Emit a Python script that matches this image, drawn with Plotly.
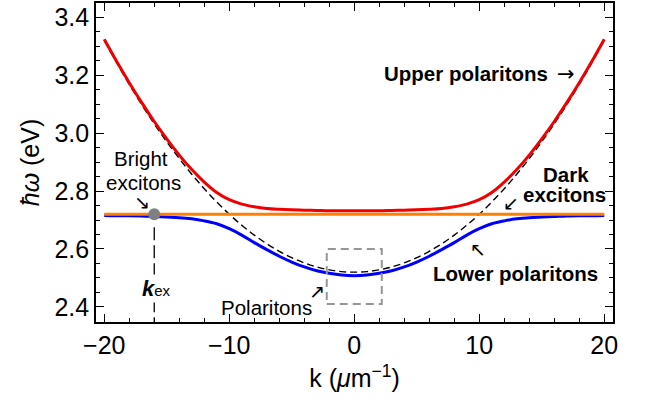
import plotly.graph_objects as go

# ---- data ----
k = [-20, -19, -18, -17, -16, -15, -14, -13, -12, -11, -10, -9, -8, -7, -6, -5, -4, -3, -2, -1,
     0, 1, 2, 3, 4, 5, 6, 7, 8, 9, 10, 11, 12, 13, 14, 15, 16, 17, 18, 19, 20]
upper = [3.324, 3.247, 3.174, 3.105, 3.040, 2.980, 2.924, 2.874, 2.831, 2.795, 2.770, 2.755,
         2.746, 2.740, 2.737, 2.735, 2.734, 2.733, 2.732, 2.732, 2.732, 2.732, 2.732, 2.733,
         2.734, 2.735, 2.737, 2.740, 2.746, 2.755, 2.770, 2.795, 2.831, 2.874, 2.924, 2.980,
         3.040, 3.105, 3.174, 3.247, 3.324]
lower = [2.716, 2.715, 2.715, 2.714, 2.712, 2.710, 2.708, 2.704, 2.697, 2.687, 2.670, 2.648,
         2.622, 2.598, 2.575, 2.555, 2.538, 2.525, 2.516, 2.510, 2.508, 2.510, 2.516, 2.525,
         2.538, 2.555, 2.575, 2.598, 2.622, 2.648, 2.670, 2.687, 2.697, 2.704, 2.708, 2.710,
         2.712, 2.714, 2.715, 2.715, 2.716]
photon = [3.320, 3.242, 3.168, 3.098, 3.032, 2.970, 2.912, 2.858, 2.808, 2.762, 2.720, 2.682,
          2.648, 2.618, 2.592, 2.570, 2.552, 2.538, 2.528, 2.522, 2.520, 2.522, 2.528, 2.538,
          2.552, 2.570, 2.592, 2.618, 2.648, 2.682, 2.720, 2.762, 2.808, 2.858, 2.912, 2.970,
          3.032, 3.098, 3.168, 3.242, 3.320]
exciton_k = [-20, 20]
exciton_E = [2.72, 2.72]
k_ex = -16
E_ex = 2.72
box_k = [-2.2, 2.2]
box_E = [2.41, 2.60]

x_range = [-20.66, 20.7]
y_range = [2.348, 3.449]
x_ticks = [-20, -10, 0, 10, 20]
x_ticklabels = ["\u221220", "\u221210", "0", "10", "20"]
y_ticks = [2.4, 2.6, 2.8, 3.0, 3.2, 3.4]
y_ticklabels = ["2.4", "2.6", "2.8", "3.0", "3.2", "3.4"]

FONT = "Liberation Sans, Arial, Helvetica, sans-serif"
ARROW_FONT = "DejaVu Sans, sans-serif"

fig = go.Figure()
fig.add_trace(go.Scatter(x=k, y=photon, mode="lines", line=dict(color="black", width=1.4, dash="7px,4px", shape="spline"), hoverinfo="skip"))
fig.add_trace(go.Scatter(x=k, y=lower, mode="lines", line=dict(color="rgb(0,0,250)", width=3, shape="spline")))
fig.add_trace(go.Scatter(x=k, y=upper, mode="lines", line=dict(color="rgb(240,0,0)", width=3, shape="spline")))
fig.add_trace(go.Scatter(x=exciton_k, y=exciton_E, mode="lines", line=dict(color="rgb(255,128,0)", width=3)))
fig.add_trace(go.Scatter(x=[k_ex, k_ex], y=[E_ex - 0.045, y_range[0]], mode="lines",
                         line=dict(color="black", width=1.3, dash="13px,5px")))
fig.add_trace(go.Scatter(x=[k_ex], y=[E_ex], mode="markers",
                         marker=dict(color="rgb(128,128,128)", size=12)))

fig.add_shape(type="rect", x0=box_k[0], x1=box_k[1], y0=box_E[0], y1=box_E[1],
              line=dict(color="rgb(150,150,150)", width=2, dash="8px,5px"))

ann = []
def add(text, x, y, size=20.5, family=FONT, bg=None, height=None):
    d = dict(text=text, x=x, y=y, xref="x", yref="y", showarrow=False,
             font=dict(family=family, size=size, color="black"), xanchor="center", yanchor="middle")
    if bg:
        d["bgcolor"] = bg
    if height:
        d["height"] = height
    ann.append(d)

add("<b>Upper polaritons</b>", 8.9, 3.205)
add("\u2192", 16.9, 3.204, size=21, family=ARROW_FONT)
add("<b>Dark</b>", 16.9, 2.856, height=19)
add("<b>excitons</b>", 16.8, 2.787, height=19)
add("\u2199", 12.5, 2.758, size=19, family=ARROW_FONT)
add("<b>Lower polaritons</b>", 12.9, 2.516)
add("\u2196", 9.9, 2.600, size=19, family=ARROW_FONT)
add("Bright", -17.1, 2.912)
add("excitons", -16.9, 2.83)
add("\u2198", -17.0, 2.762, size=19, family=ARROW_FONT)
add("Polaritons", -7.0, 2.397)
add("\u2197", -3.0, 2.456, size=19, family=ARROW_FONT)
add("<b><i>k</i></b><span style='font-size:15px'>ex</span>", -15.8, 2.463, size=22, bg="white")

fig.update_layout(
    width=652, height=409,
    margin=dict(l=96, r=39, t=1, b=87),
    paper_bgcolor="white", plot_bgcolor="white",
    showlegend=False,
    font=dict(family=FONT, size=25, color="black"),
    annotations=ann,
    xaxis=dict(range=x_range, tickvals=x_ticks, ticktext=x_ticklabels,
               showgrid=False, zeroline=False, showline=True, linecolor="black", linewidth=1.6,
               mirror="ticks", ticks="inside", ticklen=8, tickwidth=1.2, tickcolor="black",
               minor=dict(dtick=2, tick0=0, ticks="inside", ticklen=4, tickwidth=1, tickcolor="black", showgrid=False),
               tickfont=dict(size=25, family=FONT),
               title=dict(text="k (<i>\u03bc</i>m<sup>\u22121</sup>)", font=dict(size=25, family=FONT), standoff=12)),
    yaxis=dict(range=y_range, tickvals=y_ticks, ticktext=y_ticklabels,
               showgrid=False, zeroline=False, showline=True, linecolor="black", linewidth=1.6,
               mirror="ticks", ticks="inside", ticklen=8, tickwidth=1.2, tickcolor="black",
               minor=dict(dtick=0.05, tick0=0, ticks="inside", ticklen=4, tickwidth=1, tickcolor="black", showgrid=False),
               tickfont=dict(size=25, family=FONT),
               title=dict(text="<i>\u0127\u03c9</i> (eV)", font=dict(size=25, family=FONT), standoff=8)),
)

fig.write_html("out.html")
